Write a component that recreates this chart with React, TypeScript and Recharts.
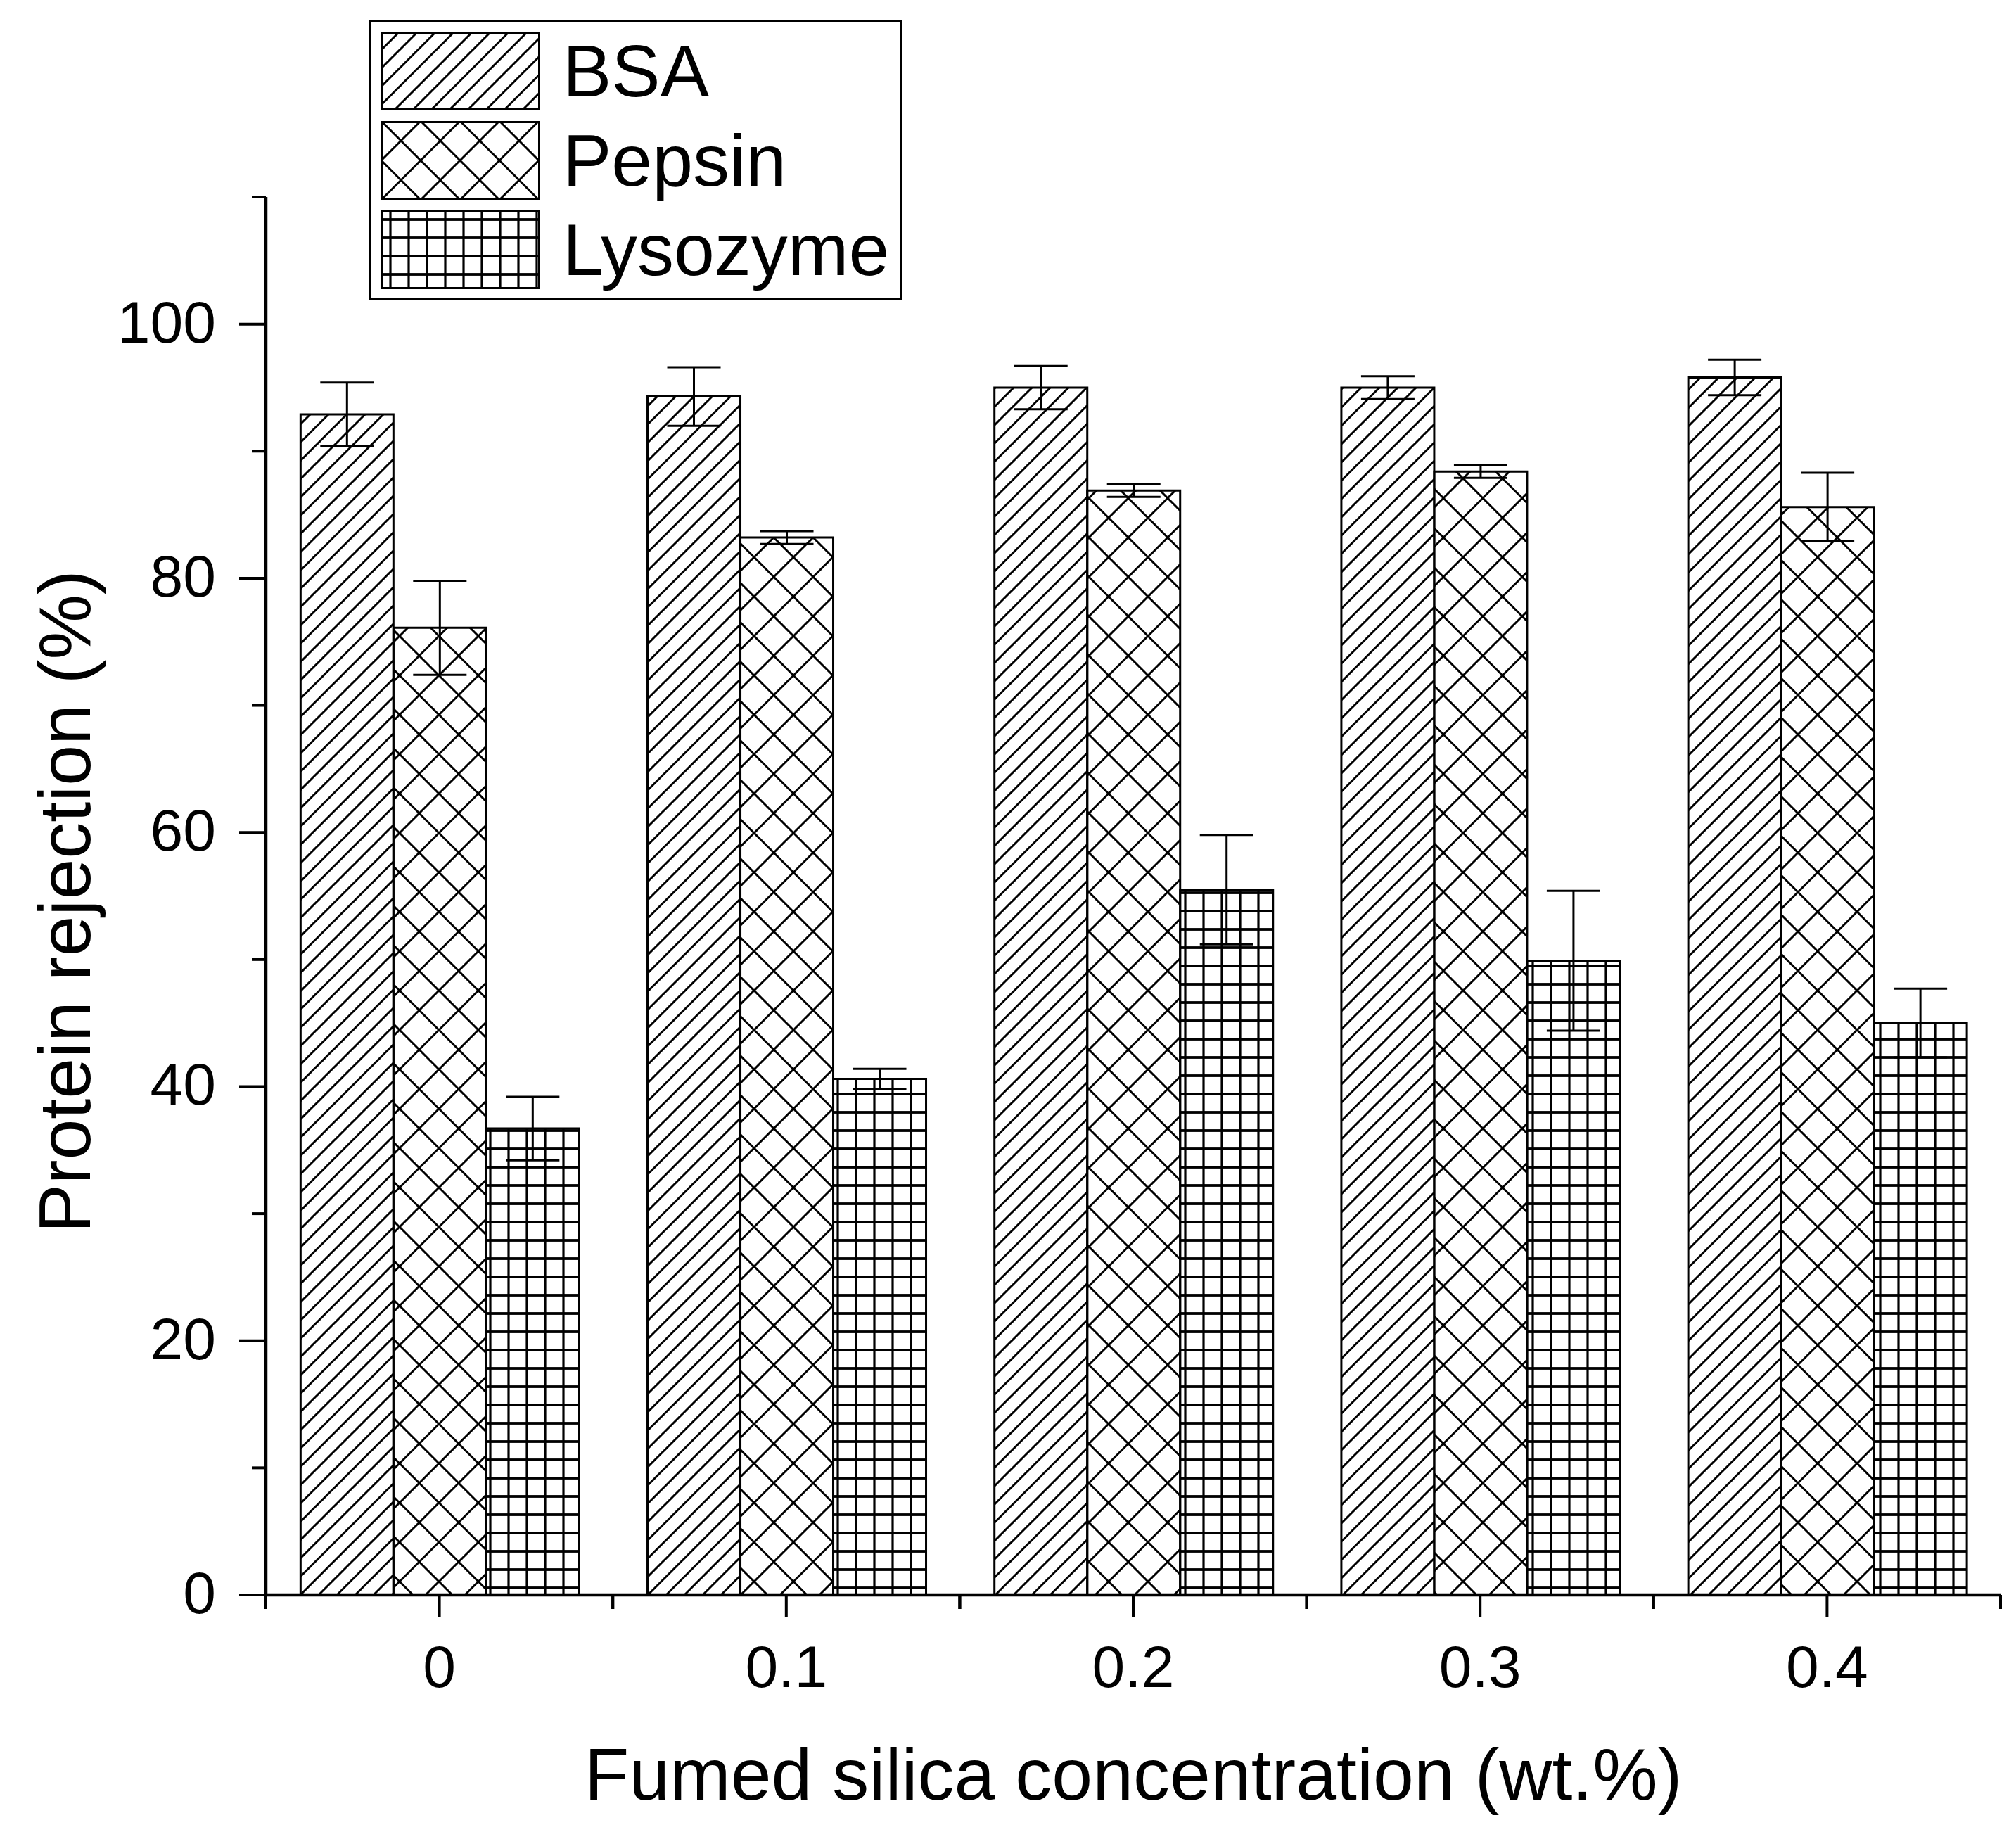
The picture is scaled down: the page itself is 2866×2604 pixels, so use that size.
import React from "react";
import { BarChart, Bar, XAxis, YAxis, ErrorBar, Legend, Label } from "recharts";

const concentrations = ["0", "0.1", "0.2", "0.3", "0.4"];
const seriesNames = ["BSA", "Pepsin", "Lysozyme"];
const bsa = [92.9, 94.3, 95.0, 95.0, 95.8];
const bsaErr = [2.5, 2.3, 1.7, 0.9, 1.4];
const pepsin = [76.1, 83.2, 86.9, 88.4, 85.6];
const pepsinErr = [3.7, 0.5, 0.5, 0.5, 2.7];
const lysozyme = [36.7, 40.6, 55.5, 49.9, 45.0];
const lysozymeErr = [2.5, 0.8, 4.3, 5.5, 2.7];
const yTicks = [0, 10, 20, 30, 40, 50, 60, 70, 80, 90, 100, 110];

const FONT = '"Liberation Sans", Arial, sans-serif';

const data = concentrations.map((c, i) => ({
  conc: c,
  bsa: bsa[i],
  bsaErr: bsaErr[i],
  pepsin: pepsin[i],
  pepsinErr: pepsinErr[i],
  lysozyme: lysozyme[i],
  lysozymeErr: lysozymeErr[i],
}));

// hatch fills shared by the bars and the legend swatches
function Patterns() {
  return (
    <svg width={0} height={0} style={{ position: "absolute" }}>
      <defs>
        <pattern id="hatchBsa" width={26} height={26} patternUnits="userSpaceOnUse">
          <path
            d="M-6.5,6.5 L6.5,-6.5 M0,26 L26,0 M19.5,32.5 L32.5,19.5"
            stroke="#000"
            strokeWidth={3}
          />
        </pattern>
        <pattern id="hatchPepsin" width={56} height={56} patternUnits="userSpaceOnUse">
          <path d="M-2,-2 L58,58 M58,-2 L-2,58" stroke="#000" strokeWidth={3} />
        </pattern>
        <pattern id="hatchLyso" width={26} height={26} patternUnits="userSpaceOnUse">
          <path d="M0,13 H26" stroke="#000" strokeWidth={3.8} />
          <path d="M13,0 V26" stroke="#000" strokeWidth={3.2} />
        </pattern>
      </defs>
    </svg>
  );
}

function YTick({ x, y, payload }: any) {
  const major = payload.value % 20 === 0;
  const len = major ? 38 : 20;
  return (
    <g>
      <line x1={x} x2={x - len} y1={y} y2={y} stroke="#000" strokeWidth={4} />
      {major && (
        <text
          x={x - 71}
          y={y}
          dy="0.31em"
          textAnchor="end"
          fontSize={84}
          fontFamily={FONT}
          fill="#000"
        >
          {payload.value}
        </text>
      )}
    </g>
  );
}

function XTick({ x, y, payload }: any) {
  const half = payload.offset || 247;
  return (
    <g>
      <line x1={x} x2={x} y1={y} y2={y + 32} stroke="#000" strokeWidth={4} />
      <line x1={x - half} x2={x - half} y1={y} y2={y + 20} stroke="#000" strokeWidth={4} />
      <line x1={x + half} x2={x + half} y1={y} y2={y + 20} stroke="#000" strokeWidth={4} />
      <text
        x={x}
        y={y + 131}
        textAnchor="middle"
        fontSize={84}
        fontFamily={FONT}
        fill="#000"
      >
        {payload.value}
      </text>
    </g>
  );
}

function renderYLabel({ viewBox }: any) {
  const cx = 120;
  const cy = viewBox.y + viewBox.height / 2 + 8;
  return (
    <text
      x={cx}
      y={cy}
      transform={`rotate(-90 ${cx} ${cy})`}
      textAnchor="middle"
      fontSize={104}
      fontFamily={FONT}
      fill="#000"
    >
      Protein rejection (%)
    </text>
  );
}

function renderXLabel({ viewBox }: any) {
  return (
    <text
      x={viewBox.x + viewBox.width / 2}
      y={viewBox.y + 291}
      textAnchor="middle"
      fontSize={104}
      fontFamily={FONT}
      fill="#000"
    >
      Fumed silica concentration (wt.%)
    </text>
  );
}

function LegendBox({ payload }: any) {
  const items = [...(payload || [])].sort(
    (a: any, b: any) => seriesNames.indexOf(a.value) - seriesNames.indexOf(b.value)
  );
  return (
    <div
      style={{
        position: "relative",
        width: 757,
        height: 398,
        border: "3px solid #000",
        boxSizing: "border-box",
        background: "#fff",
      }}
    >
      {items.map((entry: any, i: number) => (
        <div
          key={entry.value}
          style={{ position: "absolute", left: 14, top: 14 + i * 127, height: 112, display: "flex", alignItems: "center" }}
        >
          <svg width={226} height={112} style={{ display: "block" }}>
            <rect x={1.5} y={1.5} width={223} height={109} fill={entry.color} stroke="#000" strokeWidth={3} />
          </svg>
          <span
            style={{
              marginLeft: 32,
              fontFamily: FONT,
              fontSize: 104,
              lineHeight: "112px",
              color: "#000",
            }}
          >
            {entry.value}
          </span>
        </div>
      ))}
    </div>
  );
}

export default function App() {
  return (
    <div style={{ position: "relative", width: 2850, height: 2590, background: "#fff" }}>
      <Patterns />
      <BarChart
        width={2850}
        height={2590}
        data={data}
        margin={{ top: 272, right: 14, bottom: 0, left: 0 }}
        barCategoryGap="10%"
        barGap={0}
      >
        <XAxis
          dataKey="conc"
          height={331}
          axisLine={{ stroke: "#000", strokeWidth: 4.5 }}
          tickLine={false}
          tickSize={0}
          tickMargin={0}
          interval={0}
          tick={<XTick />}
        >
          <Label content={renderXLabel} />
        </XAxis>
        <YAxis
          type="number"
          domain={[0, 110]}
          ticks={yTicks}
          width={370}
          axisLine={{ stroke: "#000", strokeWidth: 4.5 }}
          tickLine={false}
          tickSize={0}
          tickMargin={0}
          interval={0}
          tick={<YTick />}
        >
          <Label content={renderYLabel} />
        </YAxis>
        <Legend
          layout="vertical"
          align="center"
          verticalAlign="middle"
          width={757}
          height={398}
          wrapperStyle={{ left: 517, top: 20, width: 757, height: 398 }}
          content={<LegendBox />}
        />
        <Bar dataKey="bsa" name="BSA" fill="url(#hatchBsa)" stroke="#000" strokeWidth={3} isAnimationActive={false}>
          <ErrorBar dataKey="bsaErr" width={38} stroke="#000" strokeWidth={3} direction="y" isAnimationActive={false} />
        </Bar>
        <Bar dataKey="pepsin" name="Pepsin" fill="url(#hatchPepsin)" stroke="#000" strokeWidth={3} isAnimationActive={false}>
          <ErrorBar dataKey="pepsinErr" width={38} stroke="#000" strokeWidth={3} direction="y" isAnimationActive={false} />
        </Bar>
        <Bar dataKey="lysozyme" name="Lysozyme" fill="url(#hatchLyso)" stroke="#000" strokeWidth={3} isAnimationActive={false}>
          <ErrorBar dataKey="lysozymeErr" width={38} stroke="#000" strokeWidth={3} direction="y" isAnimationActive={false} />
        </Bar>
      </BarChart>
    </div>
  );
}
